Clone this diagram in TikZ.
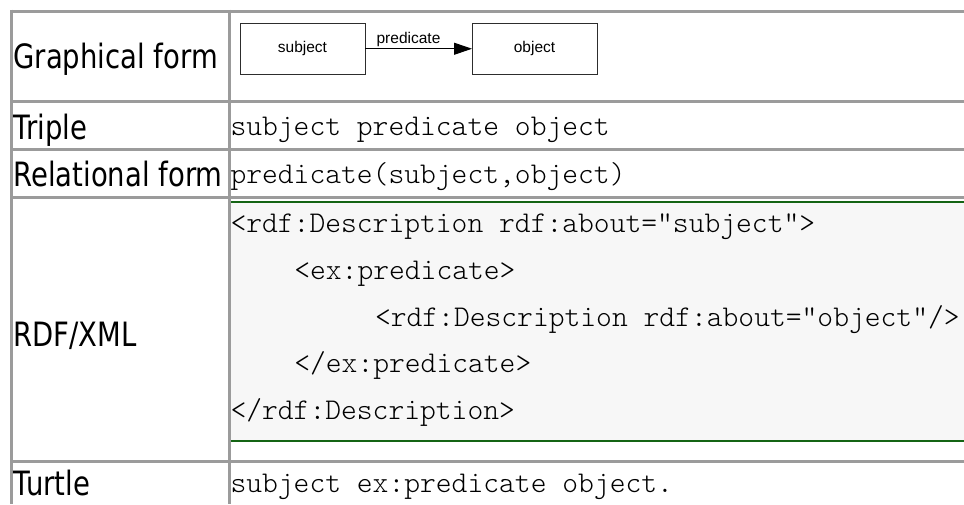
\documentclass[tikz,border=0pt]{standalone}
\usepackage{fontspec}
\usetikzlibrary{arrows.meta}
\newfontfamily\labelfont[FakeStretch=0.82]{DejaVu Sans}
\newfontfamily\codefont{lmmonolt10-regular}[Extension=.otf,Ligatures=TeXOff]
\newfontfamily\figfont{Liberation Sans}
\definecolor{gridgray}{RGB}{155,155,155}
\definecolor{codebg}{RGB}{247,247,247}
\definecolor{codegreen}{RGB}{20,100,20}
\definecolor{boxline}{RGB}{45,45,45}

\begin{document}
\begin{tikzpicture}[x=1pt,y=-1pt,
  rowlabel/.style={anchor=base west,inner sep=0pt,outer sep=0pt,
    font=\labelfont\fontsize{33.5}{40}\selectfont},
  code/.style={anchor=base west,inner sep=0pt,outer sep=0pt,
    font=\codefont\fontsize{30.1}{34}\selectfont,text=black},
  rule/.style={draw=gridgray,line width=3pt},
  figbox/.style={draw=boxline,line width=1pt,minimum width=125pt,
    minimum height=51pt,inner sep=0pt,outer sep=0pt,
    font=\figfont\fontsize{15.5}{18}\selectfont},
  edgelabel/.style={anchor=base,inner sep=0pt,
    font=\figfont\fontsize{15.5}{18}\selectfont}
]
\fill[white] (0,0) rectangle (964,504);
\clip (0,0) rectangle (964,504);

% shaded listing block with green top and bottom rules
\fill[codebg] (230.5,202) rectangle (964,441);
\draw[codegreen,line width=2pt] (230.5,202) -- (964,202);
\draw[codegreen,line width=2pt] (230.5,441) -- (964,441);

% table rules
\foreach \yy in {11,101.5,149.5,197,461}
  \draw[rule] (10,\yy) -- (964,\yy);
\draw[rule] (11.5,9.5) -- (11.5,504);
\draw[rule] (229,9.5) -- (229,504);

% row headings
\node[rowlabel] (lgraph)  at (13.5,68)  {Graphical form};
\node[rowlabel] (ltriple) at (13.5,139) {Triple};
\node[rowlabel] (lrel)    at (13.5,186) {Relational form};
\node[rowlabel] (lrdf)    at (13.5,346) {RDF/XML};
\node[rowlabel] (lturtle) at (13.5,495) {Turtle};

% graph form: subject --predicate--> object
\node[figbox] (subj) at (302.5,48.75) {subject};
\node[figbox] (obj)  at (534.5,48.75) {object};
\draw[black,line width=1pt,-{Triangle[length=18pt,width=12pt]}] (subj) -- (obj);
\node[edgelabel] (plabel) at (408.5,43.5) {predicate};

% serialisations
\node[code] (ctriple) at (230.5,135) {subject predicate object};
\node[code] (crel)    at (230.5,183) {predicate(subject,object)};
\node[code] (x1) at (230.5,232.7) {<rdf:Description rdf:about="subject">};
\node[code] (x2) at (294.3,279.3) {<ex:predicate>};
\node[code] (x3) at (375,326)     {<rdf:Description rdf:about="object"/>};
\node[code] (x4) at (294.3,372.7) {</ex:predicate>};
\node[code] (x5) at (230.5,419.3) {</rdf:Description>};
\node[code] (cturtle) at (230.5,492.7) {subject ex:predicate object.};
\end{tikzpicture}
\end{document}
